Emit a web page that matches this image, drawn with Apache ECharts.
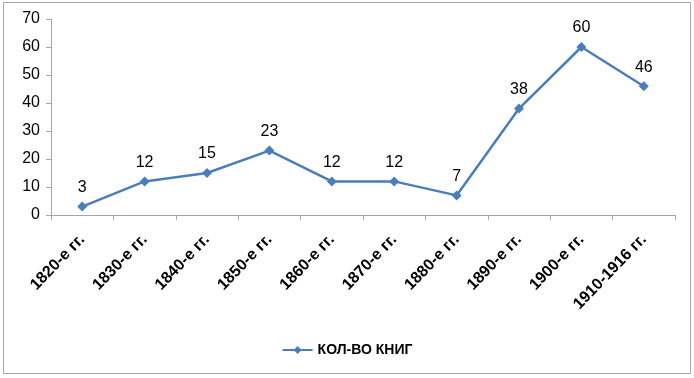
<!DOCTYPE html>
<html><head><meta charset="utf-8">
<script src="https://cdn.jsdelivr.net/npm/echarts@6/dist/echarts.min.js"></script>
<style>html,body{margin:0;padding:0;background:#fff}#c{width:694px;height:378px}</style>
</head><body><div id="c"></div>
<script>
const categories = ['1820-е гг.','1830-е гг.','1840-е гг.','1850-е гг.','1860-е гг.','1870-е гг.','1880-е гг.','1890-е гг.','1900-е гг.','1910-1916 гг.'];
const books = [3,12,15,23,12,12,7,38,60,46];
const seriesName = 'КОЛ-ВО КНИГ';
const chart = echarts.init(document.getElementById('c'));
chart.setOption({
  animation:false,
  graphic:[{type:'rect',shape:{x:3.5,y:2.5,width:687,height:371},style:{fill:'none',stroke:'#a6a6a6',lineWidth:1}}],
  grid:{left:51,right:19,top:19,bottom:163},
  legend:{bottom:16,left:'center',itemWidth:30,itemHeight:10,itemGap:4,
    textStyle:{fontFamily:'Liberation Sans',fontWeight:'bold',fontSize:14,color:'#000'},
    data:[seriesName]},
  xAxis:{type:'category',data:categories,boundaryGap:true,
    axisLine:{lineStyle:{color:'#a6a6a6'}},
    axisTick:{show:true,length:5,lineStyle:{color:'#a6a6a6'}},
    axisLabel:{rotate:46,interval:0,margin:22,fontFamily:'Liberation Sans',fontWeight:'bold',fontSize:16,color:'#000'}},
  yAxis:{type:'value',min:0,max:70,interval:10,
    axisLine:{show:true,lineStyle:{color:'#a6a6a6'}},
    axisTick:{show:true,length:5,lineStyle:{color:'#a6a6a6'}},
    splitLine:{show:false},
    axisLabel:{margin:11,fontFamily:'Liberation Sans',fontSize:16,color:'#000'}},
  series:[{name:seriesName,type:'line',data:books,symbol:'diamond',symbolSize:10,
    lineStyle:{color:'#4a7ebb',width:2.5},itemStyle:{color:'#4a7ebb'},
    label:{show:true,position:'top',distance:6,fontFamily:'Liberation Sans',fontSize:16,color:'#000'}}]
});
</script></body></html>
